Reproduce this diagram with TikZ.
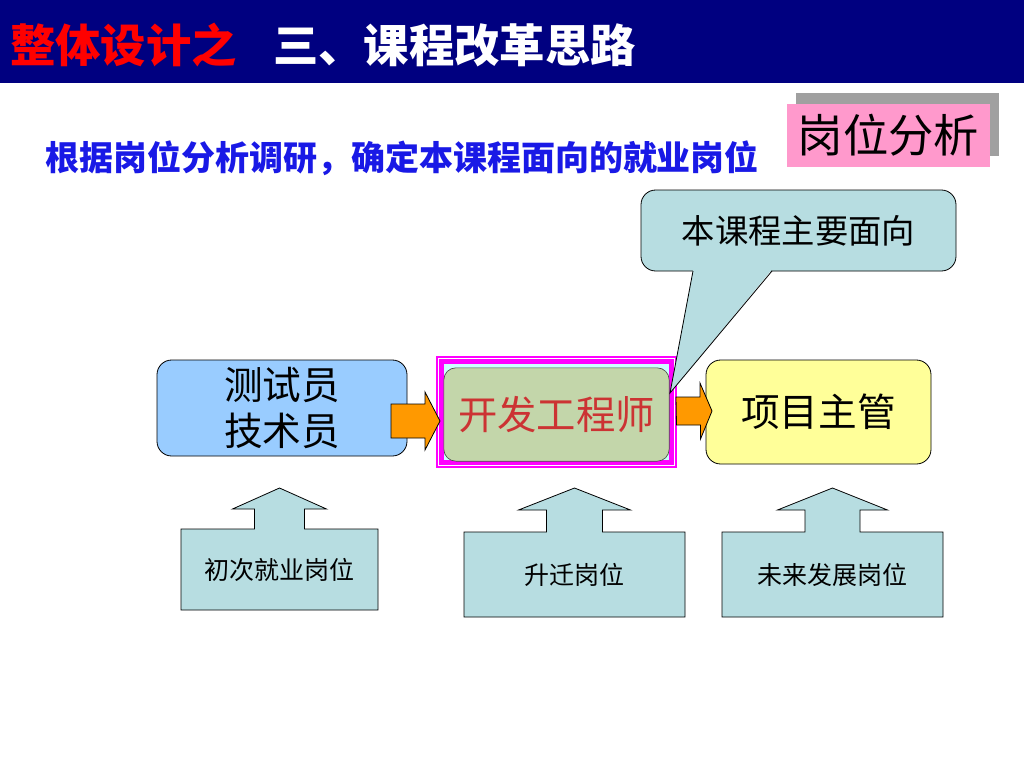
\documentclass[tikz,border=0pt]{standalone}
\usepackage{fontspec}
\setmainfont{Noto Sans CJK SC}
\usetikzlibrary{calc,backgrounds,shadows}
\definecolor{navy}{RGB}{0,0,128}
\definecolor{subblue}{RGB}{25,25,230}
\definecolor{pinkbox}{RGB}{255,153,204}
\definecolor{shadowgray}{RGB}{160,160,160}
\definecolor{calloutfill}{RGB}{183,221,225}
\definecolor{lblue}{RGB}{153,204,255}
\definecolor{lyellow}{RGB}{255,255,153}
\definecolor{sage}{RGB}{195,214,170}
\definecolor{redtext}{RGB}{204,51,51}
\definecolor{arroworange}{RGB}{255,153,0}
\definecolor{framemag}{RGB}{255,0,255}
\definecolor{palecyan}{RGB}{204,255,255}
\newcommand\upshp[5]{%
  \draw[upshape] (#1.north west) -- ($(#1.north)+(-#2,0)$) -- ($(#1.north)+(-#2,-#4)$)
    -- ($(#1.north)+(-#3,-#4)$) -- ($(#1.north)+(0,-#4-#5)$) -- ($(#1.north)+(#3,-#4)$)
    -- ($(#1.north)+(#2,-#4)$) -- ($(#1.north)+(#2,0)$) -- (#1.north east)
    -- (#1.south east) -- (#1.south west) -- cycle;}
\begin{document}
\begin{tikzpicture}[x=0.75pt,y=-0.75pt,
  every node/.style={inner sep=0pt, outer sep=0pt},
  rbox/.style={draw=black, line width=0.6pt, rounded corners=11pt, align=center},
  upshape/.style={fill=calloutfill, draw=black, line width=0.6pt},
  oarrow/.style={fill=arroworange, draw=black, line width=0.6pt, line join=miter},
  bigtxt/.style={font=\fontsize{29}{35}\selectfont},
  smalltxt/.style={font=\fontsize{18.75}{22}\selectfont}]
\useasboundingbox (0,0) rectangle (1024,768);
\begin{scope}[on background layer]
  \fill[white] (0,0) rectangle (1024,768);
\end{scope}
% title bar
\node[fill=navy, minimum width=768pt, minimum height=62.25pt, anchor=north west] (bar) at (0,0) {};
\node[anchor=west, font=\fontsize{34}{40}\selectfont\bfseries, text=red] (t1) at (10,45) {整体设计之};
\node[anchor=west, font=\fontsize{34}{40}\selectfont\bfseries, text=white] (t2) at (273,45) {三、课程改革思路};
% subtitle
\node[anchor=west, font=\fontsize{25.5}{30}\selectfont\bfseries, text=subblue] (sub) at (45,158) {根据岗位分析调研，确定本课程面向的就业岗位};
% pink label
\node[fill=pinkbox, minimum width=152.25pt, minimum height=47.25pt,
      drop shadow={shadow xshift=6.75pt, shadow yshift=8.25pt, opacity=1, fill=shadowgray},
      font=\fontsize{34}{38}\selectfont] (P) at (888.5,135.5) {岗位分析};
% main boxes
\node[rbox, fill=lblue, minimum width=187.5pt, minimum height=72pt, bigtxt] (L) at (282,408) {测试员\\技术员};
\node[draw=framemag, line width=0.8pt, fill=white, minimum width=179.25pt, minimum height=82.5pt] (M) at (556.5,412) {};
\draw[framemag, line width=3.2pt, fill=palecyan] ([shift={(4.5,4.5)}]M.north west) rectangle ([shift={(-4.5,-4.5)}]M.south east);
\node[draw=black!70, line width=0.5pt, rounded corners=9pt, fill=sage, minimum width=169pt, minimum height=70pt,
      text=redtext, font=\fontsize{29.5}{35}\selectfont] (E) at (556.5,414.5) {开发工程师};
\node[rbox, fill=lyellow, minimum width=168.75pt, minimum height=78pt, bigtxt] (R) at (818.5,412) {项目主管};
% orange arrows
\coordinate (a1s) at ($(L.east)+(-16,13)$);
\coordinate (a1t) at ($(M.west)+(3,9)$);
\draw[oarrow] (a1s) ++(0,-17) -- ++(34,0) -- ++(0,-12) -- (a1t) -- ++(-15,29) -- ++(0,-12) -- ++(-34,0) -- cycle;
\coordinate (a2s) at ($(M.east)+(0,-1)$);
\coordinate (a2t) at ($(R.west)+(6,-1)$);
\draw[oarrow] (a2s) ++(0,-14) -- ++(24,0) -- ++(0,-14) -- (a2t) -- ++(-11.5,28) -- ++(0,-14) -- ++(-24,0) -- cycle;
% callout
\node[draw=black, line width=0.6pt, rounded corners=11pt, fill=calloutfill, minimum width=236.25pt, minimum height=60.75pt,
      font=\fontsize{25}{30}\selectfont] (C) at (798.5,230.5) {本课程主要面向};
\coordinate (tip) at ($(M.north east)+(-6,36)$);
\coordinate (cb1) at ($(C.south)+(-105.5,0)$);
\coordinate (cb2) at ($(C.south)+(-26.5,0)$);
\fill[calloutfill] ($(cb1)+(0,-1.5)$) -- (tip) -- ($(cb2)+(0,-1.5)$) -- cycle;
\draw[black, line width=0.6pt, line join=miter] (cb1) -- (tip) -- (cb2);
% bottom up-arrow callouts
\node[minimum width=147.75pt, minimum height=60.75pt, smalltxt] (B1) at (279.5,569.5) {初次就业岗位};
\node[minimum width=165.75pt, minimum height=63.75pt, smalltxt] (B2) at (574.5,574.5) {升迁岗位};
\node[minimum width=165.75pt, minimum height=63.75pt, smalltxt] (B3) at (832.5,574.5) {未来发展岗位};
\begin{scope}[on background layer]
  \upshp{B1}{25}{47}{20}{21}
  \upshp{B2}{28}{56}{22}{22}
  \upshp{B3}{27.5}{55}{22}{22}
\end{scope}
\end{tikzpicture}
\end{document}
